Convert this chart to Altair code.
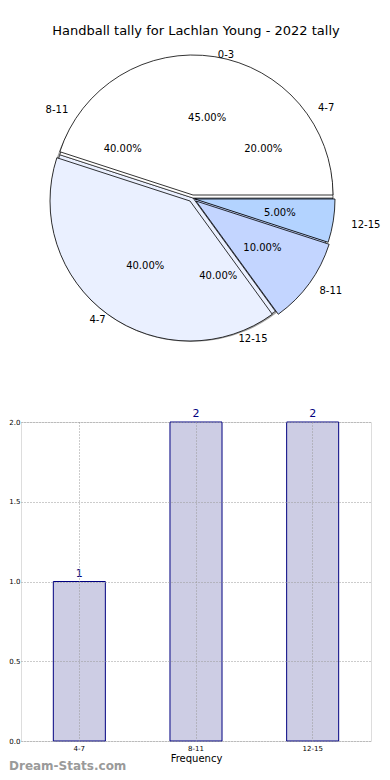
import math
import altair as alt
import pandas as pd

# ---- data ----
title_text = "Handball tally for Lachlan Young - 2022 tally"

# visible pie wedges, clockwise from 3 o'clock
wedge_share = [5, 10, 40, 45]
wedge_color = ["#b3d3ff", "#c3d5ff", "#eaf0ff", "#ffffff"]
wedge_dx = [2, 3, -3, 0]
wedge_dy = [1, 3, 3, -3]

# outer labels (matplotlib angle, degrees counter-clockwise from 3 o'clock)
outer_text = ["0-3", "4-7", "12-15", "8-11", "12-15", "4-7", "8-11"]
outer_angle = [77, 34, 351, 326, 293, 232, 147]
outer_scale = [1.10, 1.14, 1.21, 1.18, 1.14, 1.13, 1.15]

pct_text = ["45.00%", "20.00%", "5.00%", "10.00%", "40.00%", "40.00%", "40.00%"]
pct_angle = [80, 35, 350, 324, 235, 288, 145]

bar_cats = ["4-7", "8-11", "12-15"]
bar_counts = [1, 2, 2]

# ---- geometry of the pie panel ----
PW, PH = 350, 405
CX, CY = 172, 189
RX, RY = 145, 133
R = 140

pie_df = pd.DataFrame({"order": range(len(wedge_share)), "share": wedge_share,
                       "color": wedge_color, "dx": wedge_dx, "dy": wedge_dy})
outer_df = pd.DataFrame({"t": outer_text, "ang": outer_angle, "k": outer_scale})
pct_df = pd.DataFrame({"t": pct_text, "ang": pct_angle, "k": [0.61] * len(pct_text)})

theta_scale = alt.Scale(domain=[0, 100], range=[math.pi / 2, math.pi * 2.5])
ang_scale = alt.Scale(domain=[0, 360], range=[math.pi * 2.5, math.pi / 2])

base = (alt.Chart(pie_df)
        .transform_window(cum="sum(share)", sort=[alt.SortField("order")], frame=[None, 0])
        .transform_calculate(start="datum.cum - datum.share"))

shadow = alt.Chart(pd.DataFrame({"share": [100]})).mark_arc(
    radius=R + 1, fill="#8a8a8a", xOffset=-2, yOffset=3, opacity=0.8
).encode(theta=alt.Theta("share:Q", scale=theta_scale),
         x=alt.value(CX), y=alt.value(CY))

under = base.mark_arc(radius=R, stroke="black", strokeWidth=0.6).encode(
    theta=alt.Theta("start:Q", scale=theta_scale), theta2="cum:Q",
    fill=alt.Color("color:N", scale=None),
    x=alt.value(CX), y=alt.value(CY))

wedge_layers = []
for i in range(len(wedge_share)):
    wedge_layers.append(
        base.transform_filter(f"datum.order == {i}")
        .mark_arc(radius=R, stroke="black", strokeWidth=0.8,
                  xOffset=wedge_dx[i], yOffset=wedge_dy[i])
        .encode(theta=alt.Theta("start:Q", scale=theta_scale), theta2="cum:Q",
                fill=alt.Color("color:N", scale=None),
                x=alt.value(CX), y=alt.value(CY))
    )

ell = (f"datum.k / sqrt(pow(cos(datum.ang*PI/180)/{RX},2) + "
       f"pow(sin(datum.ang*PI/180)/{RY},2))")


def text_layer(df, size):
    return (alt.Chart(df).transform_calculate(rr=ell)
            .mark_text(fontSize=size, font="DejaVu Sans", color="black")
            .encode(theta=alt.Theta("ang:Q", scale=ang_scale, stack=False),
                    radius=alt.Radius("rr:Q", scale=None),
                    text="t:N", x=alt.value(CX), y=alt.value(CY)))


outer_lbl = text_layer(outer_df, 10)
pct_lbl = text_layer(pct_df, 10)

title_lbl = alt.Chart(pd.DataFrame({"t": [title_text]})).mark_text(
    fontSize=13, font="DejaVu Sans", color="black"
).encode(text="t:N", x=alt.value(175), y=alt.value(22))

pie = alt.layer(shadow, under, *wedge_layers, outer_lbl, pct_lbl, title_lbl).resolve_scale(
    theta="independent"
).properties(width=PW, height=PH, view=alt.ViewConfig(stroke="transparent"))

# ---- bar chart ----
BW, BH = 350, 319
bar_df = pd.DataFrame({"cat": bar_cats, "count": bar_counts})

xenc = alt.X("cat:N", sort=bar_cats,
             scale=alt.Scale(paddingInner=0.554, paddingOuter=0.277),
             axis=alt.Axis(title="Frequency", labelAngle=0, grid=True, gridDash=[1, 2],
                           gridColor="#999999", gridWidth=1, bandPosition=0.5, ticks=False,
                           domain=False, labelFontSize=7, labelPadding=3,
                           titleFontSize=10, titleFontWeight="normal", titlePadding=2,
                           zindex=1))
yenc = alt.Y("count:Q", scale=alt.Scale(domain=[0, 2]),
             axis=alt.Axis(values=[0, 0.5, 1, 1.5, 2], format=".1f", grid=True,
                           gridDash=[1, 2], gridColor="#999999", ticks=False, domain=False,
                           labelFontSize=7, labelPadding=1, title=None, zindex=1))

bars = alt.Chart(bar_df).mark_bar(fill="#cdcde4", stroke="#000080", strokeWidth=1).encode(
    x=xenc, y=yenc)
bar_txt = alt.Chart(bar_df).mark_text(dy=-8, color="#000080", fontSize=11,
                                       font="DejaVu Sans").encode(
    x=alt.X("cat:N", sort=bar_cats), y="count:Q", text="count:Q")
mark_wm = alt.Chart(pd.DataFrame({"t": ["Dream-Stats.com"]})).mark_text(
    align="left", fontSize=12, fontWeight="bold", color="#9a9a9a", font="DejaVu Sans"
).encode(text="t:N", x=alt.value(-12), y=alt.value(BH + 25))

barchart = alt.layer(bars, bar_txt, mark_wm).properties(width=BW, height=BH)

chart = alt.vconcat(pie, barchart, spacing=8, bounds="flush").properties(
    padding=0
).configure_view(
    stroke="black", strokeWidth=1
).configure(font="DejaVu Sans")

chart.save("out.html", embed_options={"renderer": "svg", "actions": False})
